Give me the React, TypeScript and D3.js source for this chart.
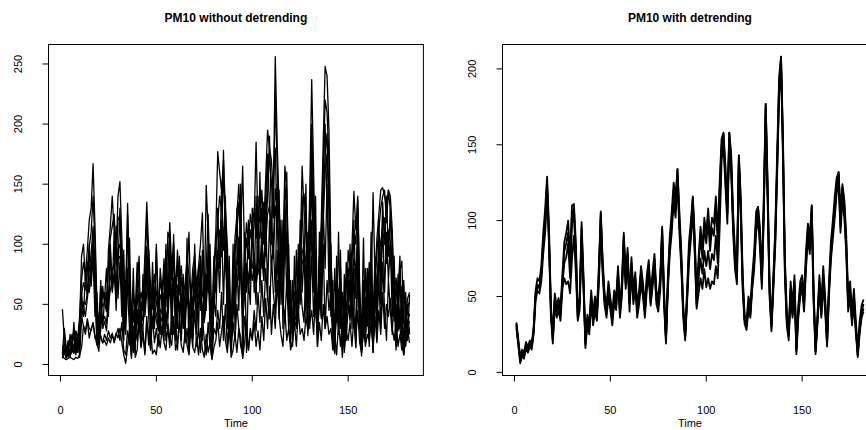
import React from "react";
import * as d3 from "d3";

// ---- data: PM10 daily series (t = 1..182) ----
const LEFT_TITLE = "PM10 without detrending";
const RIGHT_TITLE = "PM10 with detrending";
const X_LABEL = "Time";
const X_TICKS = [0, 50, 100, 150];
const LEFT_Y_TICKS = [0, 50, 100, 150, 200, 250];
const RIGHT_Y_TICKS = [0, 50, 100, 150, 200];

const L1 = [
  46,22,12,18,15,25,20,28,22,40, 70,85,75,95,120,130,167,115,50,30,
  65,55,60,50,80,105,115,125,90,140, 152,105,50,60,125,80,25,45,38,70,
  50,60,52,90,135,95,65,55,75,60, 48,68,60,88,55,75,118,80,102,60,
  95,68,82,55,68,88,75,55,80,92, 65,82,100,126,60,80,125,68,30,80,
  110,177,160,145,170,130,100,55,32,68, 105,125,150,110,165,90,118,100,125,112,
  130,105,125,118,145,112,155,195,180,170, 140,256,185,130,100,85,165,145,80,48,
  42,60,55,80,100,130,142,118,80,145, 237,160,75,42,80,120,185,248,240,195,
  92,48,35,72,55,80,22,55,72,80, 60,98,144,112,140,68,20,48,80,55,
  85,60,143,72,105,125,145,147,140,132, 145,140,112,60,72,48,66,42,18,40,
  55,60,
];
const L2 = [
  12,18,8,14,10,20,14,22,16,30, 58,68,62,80,98,110,140,100,45,26,
  56,48,52,44,95,115,140,110,82,120, 125,92,44,52,110,70,20,40,32,58,
  40,52,45,76,120,82,56,46,64,52, 40,58,52,76,48,110,104,70,92,52,
  84,58,72,48,58,76,110,48,70,82, 56,72,88,58,52,149,110,58,25,70,
  98,118,140,128,155,118,88,48,28,58, 92,110,135,100,55,82,105,88,112,100,
  118,185,112,105,130,100,140,175,170,152, 122,225,165,118,88,76,150,130,70,42,
  36,52,48,70,90,165,128,105,70,128, 200,140,65,36,70,105,165,220,210,170,
  82,42,30,64,48,70,18,48,64,70, 52,88,112,100,137,58,18,42,70,48,
  76,52,24,64,94,112,130,140,145,118, 145,128,100,52,64,42,78,86,34,36,
  48,52,
];
const L3 = [
  8,14,6,10,8,15,12,16,14,24, 45,52,50,58,78,92,115,82,36,20,
  44,36,40,34,55,72,78,84,64,96, 100,74,34,40,134,56,16,32,26,46,
  32,42,36,60,98,64,44,36,50,42, 32,46,42,60,36,50,84,56,72,42,
  66,46,58,36,46,60,50,36,56,64, 44,58,70,46,42,56,88,46,18,56,
  78,92,112,102,178,92,70,36,22,46, 74,88,106,78,42,64,84,70,88,80,
  92,74,88,84,102,80,112,140,190,120, 98,146,130,92,70,60,132,102,56,32,
  28,42,36,56,70,92,100,84,56,102, 164,112,50,28,56,84,130,176,192,140,
  64,32,22,50,36,56,14,36,50,56, 42,70,88,78,102,46,12,32,56,36,
  60,42,18,50,74,88,102,115,122,92, 112,102,78,42,50,32,46,28,10,28,
  36,42,
];
const L4 = [
  6,10,5,12,7,14,9,14,10,20, 38,48,40,55,70,80,98,70,28,16,
  40,30,36,28,50,62,70,75,52,88, 90,62,28,36,80,44,12,26,20,40,
  28,36,30,54,86,55,36,30,44,36, 28,40,36,54,30,45,76,48,65,36,
  60,40,52,30,40,55,44,30,48,58, 38,50,64,40,36,50,80,40,15,48,
  70,84,100,90,112,84,62,30,18,40, 66,80,96,70,36,58,76,62,80,70,
  84,66,80,76,92,70,100,125,132,110, 88,132,118,84,62,54,120,92,48,28,
  25,36,32,50,62,84,90,76,50,92, 150,100,45,25,50,76,118,160,175,125,
  58,28,20,45,32,50,12,32,45,50, 36,62,80,70,92,40,10,28,50,32,
  54,36,15,45,66,80,92,104,110,84, 102,92,70,36,45,28,40,24,8,24,
  32,36,
];
const L5 = [
  9,30,14,6,25,10,35,8,20,12, 60,40,75,55,100,65,90,40,60,25,
  70,30,55,80,45,100,60,75,115,55, 85,40,95,25,70,105,30,80,10,65,
  90,20,75,40,60,95,25,85,45,100, 30,80,60,20,95,45,110,25,70,50,
  30,90,45,75,20,105,35,65,15,80, 60,30,90,20,70,45,100,25,8,55,
  40,95,60,120,50,110,30,75,20,100, 30,80,45,120,40,95,10,70,50,130,
  75,50,140,60,110,70,130,60,120,80, 100,60,150,50,120,30,110,60,100,20,
  70,30,95,40,120,60,90,40,110,30, 120,60,140,30,90,40,130,80,150,60,
  100,20,80,35,110,30,60,15,85,45, 100,30,80,15,90,50,30,105,20,70,
  40,110,35,90,20,100,50,120,60,110, 70,100,40,80,15,60,90,25,70,30,
  50,25,
];
const L6 = [
  5,12,8,20,6,15,30,10,25,6, 40,32,25,38,30,28,35,22,20,28,
  22,18,25,20,28,22,26,18,24,30, 20,35,12,8,28,16,40,10,30,20,
  45,15,30,8,35,25,12,40,18,30, 15,38,25,50,20,30,14,45,25,35,
  12,40,20,55,18,30,10,35,22,45, 15,30,10,40,20,8,35,15,5,30,
  25,45,30,60,20,50,15,40,10,35, 20,50,30,15,8,40,25,12,30,20,
  35,15,28,12,40,20,55,30,65,25, 50,30,70,40,25,15,45,20,30,12,
  20,35,15,45,25,30,20,40,28,35, 45,25,60,15,35,20,50,30,40,25,
  30,12,25,8,35,15,40,10,28,20, 35,15,40,20,45,18,10,30,15,25,
  20,35,12,40,18,45,25,60,30,50, 40,55,30,20,35,15,25,12,20,15,
  30,18,
];
const L7 = [
  7,5,4,5,6,5,4,6,5,8, 14,32,28,36,22,30,34,24,16,22,
  24,18,20,16,22,18,24,20,26,22, 30,18,8,1,14,30,5,28,6,12,
  35,14,25,10,40,16,30,9,12,8, 25,14,30,18,12,35,22,16,40,12,
  18,35,16,10,28,16,8,30,14,10, 22,8,30,12,6,25,10,18,4,14,
  20,35,15,28,40,20,10,30,6,12, 25,10,30,22,5,18,35,12,26,22,
  45,28,60,35,70,40,80,55,38,90, 60,42,95,38,85,55,35,70,30,18,
  15,50,60,38,72,48,35,82,24,60, 90,40,75,24,65,38,100,30,70,45,
  60,18,9,55,30,62,6,45,20,48, 40,70,38,14,75,30,7,55,22,48,
  15,60,10,68,35,72,30,85,45,20, 70,45,25,60,12,48,30,18,8,22,
  26,30,
];
const L8 = [
  15,10,6,9,7,12,10,25,12,35, 90,100,70,85,60,75,105,55,18,11,
  30,65,50,60,40,95,62,110,45,80, 130,60,20,70,60,30,7,60,45,85,
  60,30,65,45,80,40,12,70,30,96, 55,25,70,40,100,36,70,35,108,20,
  50,85,30,70,25,90,10,60,38,100, 25,80,45,95,35,75,60,100,28,90,
  60,130,80,150,95,140,45,90,15,80, 50,130,70,150,5,110,60,120,70,115,
  60,140,75,160,80,135,90,175,130,100, 160,180,110,145,50,120,95,160,40,70,
  18,90,30,100,50,140,80,150,40,90, 190,80,95,15,110,60,160,200,130,100,
  40,70,10,90,25,95,8,75,30,95, 80,40,120,55,130,30,25,70,40,80,
  30,90,10,85,40,120,70,135,100,140, 90,130,60,90,20,75,30,65,10,60,
  20,58,
];

const R0 = [
  31,20,8,13,11,18,15,19,17,28, 50,58,55,65,85,100,125,90,40,22,
  48,40,45,38,60,80,85,92,70,105, 108,80,38,45,95,60,18,35,28,50,
  35,45,38,65,105,70,48,40,55,45, 35,50,45,65,40,55,90,60,78,45,
  72,50,62,40,50,65,55,40,60,70, 48,62,75,50,45,60,95,50,21,60,
  85,100,120,110,134,100,75,40,24,50, 80,95,115,85,45,70,90,75,95,85,
  100,80,95,90,110,85,120,150,157,130, 105,158,140,100,75,65,143,110,60,35,
  31,45,40,60,75,100,109,90,60,110, 177,120,55,30,60,90,140,190,208,150,
  70,35,25,55,40,60,15,40,55,60, 45,75,95,85,110,50,14,35,60,40,
  65,45,20,55,80,95,110,125,132,100, 122,110,85,45,55,35,50,30,12,30,
  40,45,
];
const R1 = [
  33,22,10,15,13,20,17,21,19,30, 54,62,60,70,92,108,129,96,44,25,
  52,44,49,42,65,86,92,100,76,110, 111,86,42,49,99,64,21,38,32,54,
  39,50,42,70,106,74,52,44,60,49, 39,54,49,70,44,60,92,64,82,49,
  76,54,66,44,54,70,59,44,64,74, 52,66,78,54,49,64,96,54,23,64,
  90,106,125,116,134,106,80,44,27,54, 86,100,116,90,50,76,96,82,102,92,
  108,88,102,98,116,92,126,154,158,136, 110,158,144,106,80,70,143,116,64,38,
  34,50,44,64,80,106,109,96,64,116, 177,126,60,33,64,96,146,195,208,156,
  76,40,28,60,44,64,18,44,60,64, 50,80,98,90,110,55,16,38,64,44,
  70,50,24,60,86,100,116,128,132,106, 124,114,90,50,60,40,55,34,15,34,
  44,48,
];
const R2 = [
  29,18,6,11,9,16,13,17,15,25, 47,54,52,60,78,92,118,84,36,19,
  44,36,41,34,55,62,58,60,52,75, 90,66,34,41,85,55,16,32,25,46,
  31,40,34,58,96,64,44,36,50,41, 31,46,41,60,36,50,84,55,72,40,
  66,45,56,36,45,58,50,36,54,63, 44,56,68,45,40,54,86,44,19,55,
  78,92,112,102,126,92,68,36,21,46, 72,88,106,78,42,52,62,55,68,56,
  62,55,60,58,70,62,95,140,150,122, 98,150,132,92,68,58,136,102,54,32,
  28,41,36,55,68,92,102,82,55,102, 170,112,50,27,55,84,132,182,200,142,
  64,31,21,50,36,55,12,36,50,55, 40,68,88,78,102,45,12,32,55,36,
  58,40,17,50,74,88,102,118,125,92, 114,102,78,40,50,31,45,26,10,26,
  36,40,
];
const R3 = [
  32,19,7,14,12,17,16,18,18,27, 51,57,57,64,88,98,122,88,42,21,
  47,42,44,40,58,72,76,85,62,98, 104,74,36,47,92,58,19,34,30,48,
  36,44,40,62,102,68,46,42,53,44, 36,48,44,66,41,54,88,58,76,46,
  70,48,60,42,48,66,52,40,58,68, 46,60,72,48,44,58,92,48,22,58,
  84,98,118,108,130,98,72,40,23,48, 78,92,112,82,44,62,75,65,80,70,
  80,68,78,74,90,72,108,146,154,128, 104,154,136,98,72,62,140,106,58,34,
  30,44,38,58,72,98,106,88,58,108, 174,118,54,30,58,88,136,188,205,146,
  68,34,24,54,38,58,14,38,54,58, 44,72,92,84,106,48,14,34,58,38,
  62,44,19,54,78,92,106,122,130,96, 118,106,82,44,52,34,48,28,11,28,
  38,42,
];

const LEFT_SERIES = [L1, L2, L3, L4, L5, L6, L7, L8];
const RIGHT_SERIES = [R0, R1, R2, R3];

const FONT = "'Liberation Sans', Arial, Helvetica, sans-serif";

// R-style 4% axis extension
function rExtend([a, b]: [number, number]): [number, number] {
  const e = (b - a) * 0.04;
  return [a - e, b + e];
}

type PanelProps = {
  x0: number;
  series: number[][];
  title: string;
  yTicks: number[];
  strokeWidth: number;
};

function Panel({ x0, series, title, yTicks, strokeWidth }: PanelProps) {
  const W = 374.9;
  const top = 44.5;
  const bottom = 375.5;
  const n = series[0].length;
  const xs = d3.scaleLinear().domain(rExtend([1, n])).range([x0, x0 + W]);
  const ext = d3.extent(series.flat()) as [number, number];
  const ys = d3.scaleLinear().domain(rExtend(ext)).range([bottom, top]);
  const line = d3
    .line<number>()
    .x((_d, i) => xs(i + 1))
    .y((d) => ys(d));
  const cx = x0 + W / 2;
  const tick = 6;
  return (
    <g>
      <text x={cx} y={22} textAnchor="middle" fontWeight="bold" fontSize={12} fontFamily={FONT} fill="#000">
        {title}
      </text>
      <g>
        {series.map((s, k) => (
          <path key={k} d={line(s) || ""} fill="none" stroke="#000" strokeWidth={strokeWidth} strokeLinejoin="round" />
        ))}
      </g>
      <rect x={x0} y={top} width={W} height={bottom - top} fill="none" stroke="#000" strokeWidth={1} />
      {/* x axis */}
      <line x1={xs(X_TICKS[0])} x2={xs(X_TICKS[X_TICKS.length - 1])} y1={bottom} y2={bottom} stroke="#000" />
      {X_TICKS.map((t) => (
        <g key={t}>
          <line x1={xs(t)} x2={xs(t)} y1={bottom} y2={bottom + tick} stroke="#000" />
          <text x={xs(t)} y={413.5} textAnchor="middle" fontSize={11} fontFamily={FONT} fill="#000">
            {t}
          </text>
        </g>
      ))}
      <text x={cx} y={427} textAnchor="middle" fontSize={11} fontFamily={FONT} fill="#000">
        {X_LABEL}
      </text>
      {/* y axis */}
      <line x1={x0} x2={x0} y1={ys(yTicks[0])} y2={ys(yTicks[yTicks.length - 1])} stroke="#000" />
      {yTicks.map((t) => (
        <g key={t}>
          <line x1={x0} x2={x0 - tick} y1={ys(t)} y2={ys(t)} stroke="#000" />
          <text
            transform={`translate(${x0 - 27},${ys(t)}) rotate(-90)`}
            textAnchor="middle"
            fontSize={11}
            fontFamily={FONT}
            fill="#000"
          >
            {t}
          </text>
        </g>
      ))}
    </g>
  );
}

export default function App() {
  return (
    <svg
      width={866}
      height={430}
      viewBox="0 0 866 430"
      style={{ position: "absolute", left: 0, top: 0, background: "#fff", display: "block" }}
    >
      <rect x={0} y={0} width={866} height={430} fill="#fff" />
      <Panel x0={48.5} series={LEFT_SERIES} title={LEFT_TITLE} yTicks={LEFT_Y_TICKS} strokeWidth={1.3} />
      <Panel x0={502.5} series={RIGHT_SERIES} title={RIGHT_TITLE} yTicks={RIGHT_Y_TICKS} strokeWidth={1.8} />
    </svg>
  );
}
